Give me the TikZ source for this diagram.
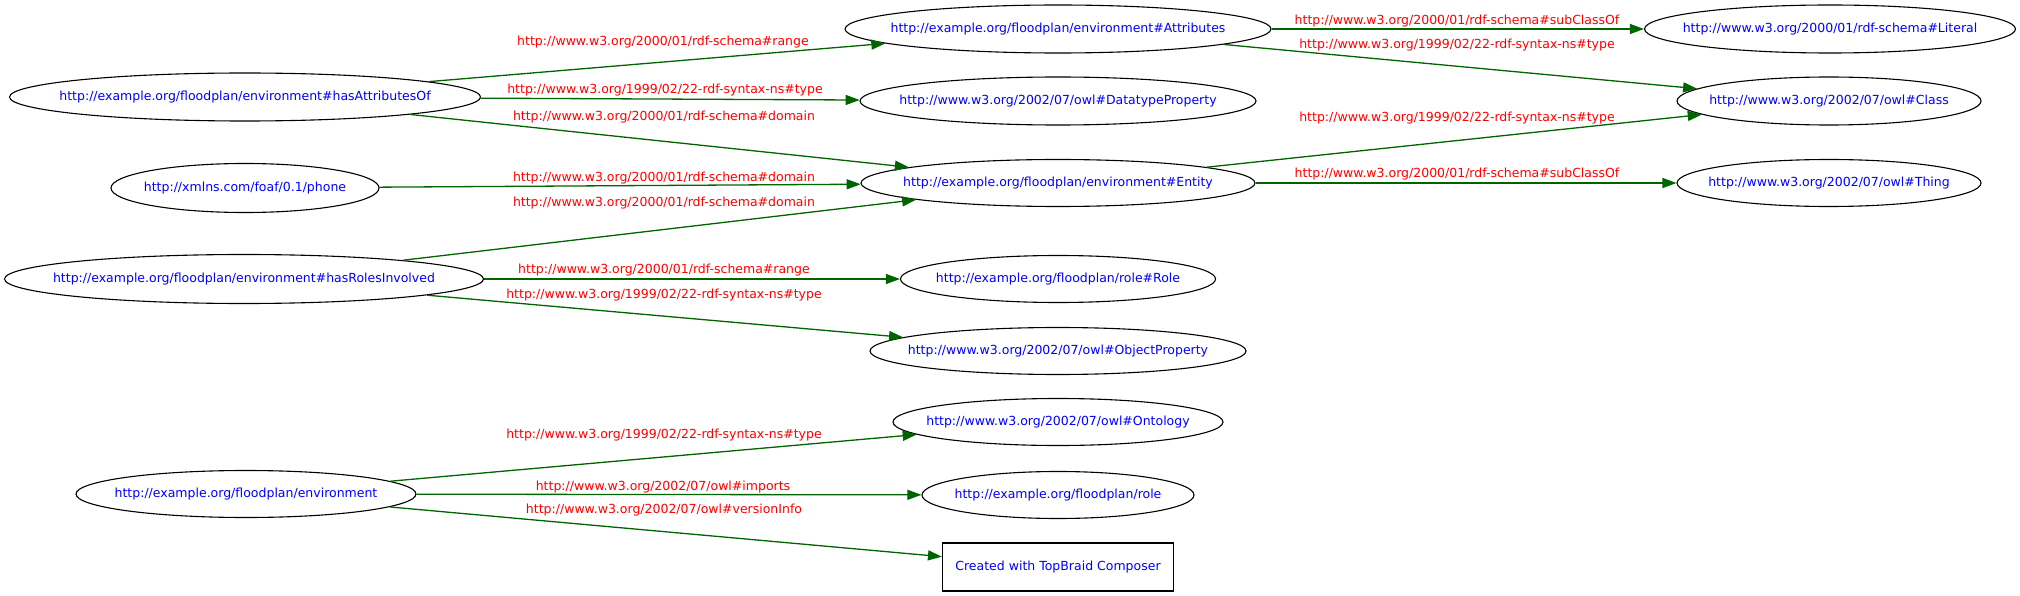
\documentclass[tikz,border=0pt]{standalone}
\usepackage{fontspec}
\setmainfont{DejaVu Sans}
\usepackage{xcolor}
\usepackage{tikz}
\usetikzlibrary{arrows.meta, shapes.geometric}

\definecolor{iriblue}{RGB}{0,0,255}
\definecolor{predred}{RGB}{255,0,0}
\definecolor{linkgreen}{RGB}{0,100,0}

\begin{document}
\begin{tikzpicture}[
    x=1pt, y=-1pt,
    res/.style={draw, ellipse, line width=1.1pt, inner xsep=-40pt, inner ysep=0pt, text=iriblue, font=\fontsize{12.5}{15}\selectfont},
    lit/.style={draw, rectangle, line width=1.1pt, inner sep=0pt, text=iriblue, font=\fontsize{12.5}{15}\selectfont},
    link/.style={draw=linkgreen, line width=1.3pt, -{Triangle[length=14pt, width=10pt]}},
    pred/.style={inner sep=0pt, text=predred, font=\fontsize{12.5}{15}\selectfont},
]
\useasboundingbox (0,0) rectangle (2020,596);

% Properties
\node[res, minimum width=471, minimum height=48] (hasattr) at (245,97) {http://example.org/floodplan/environment\#hasAttributesOf};
\node[res, minimum width=268, minimum height=49] (phone) at (245,188) {http://xmlns.com/foaf/0.1/phone};
\node[res, minimum width=479, minimum height=49] (hasroles) at (244,279) {http://example.org/floodplan/environment\#hasRolesInvolved};
\node[res, minimum width=340, minimum height=47] (env) at (246,494) {http://example.org/floodplan/environment};

% Classes and types
\node[res, minimum width=426, minimum height=48] (attrs) at (1058,29) {http://example.org/floodplan/environment\#Attributes};
\node[res, minimum width=396, minimum height=48] (dtprop) at (1058,101) {http://www.w3.org/2002/07/owl\#DatatypeProperty};
\node[res, minimum width=394, minimum height=47] (entity) at (1058,183) {http://example.org/floodplan/environment\#Entity};
\node[res, minimum width=315, minimum height=47] (rolecls) at (1058,279) {http://example.org/floodplan/role\#Role};
\node[res, minimum width=376, minimum height=47] (objprop) at (1058,351) {http://www.w3.org/2002/07/owl\#ObjectProperty};
\node[res, minimum width=330, minimum height=47] (ontology) at (1058,422) {http://www.w3.org/2002/07/owl\#Ontology};
\node[res, minimum width=272, minimum height=47] (roleont) at (1058,495) {http://example.org/floodplan/role};
\node[lit, minimum width=231, minimum height=48] (credit) at (1058,567) {Created with TopBraid Composer};

% Top level
\node[res, minimum width=371, minimum height=48] (literal) at (1830,29) {http://www.w3.org/2000/01/rdf-schema\#Literal};
\node[res, minimum width=304, minimum height=48] (owlclass) at (1829,101) {http://www.w3.org/2002/07/owl\#Class};
\node[res, minimum width=304, minimum height=47] (thing) at (1829,183) {http://www.w3.org/2002/07/owl\#Thing};

% Links
\draw[link] (hasattr) -- (attrs);
\draw[link] (hasattr) -- (dtprop);
\draw[link] (hasattr) -- (entity);
\draw[link] (phone) -- (entity);
\draw[link] (hasroles) -- (entity);
\draw[link] (hasroles) -- (rolecls);
\draw[link] (hasroles) -- (objprop);
\draw[link] (attrs) -- (literal);
\draw[link] (attrs) -- (owlclass);
\draw[link] (entity) -- (owlclass);
\draw[link] (entity) -- (thing);
\draw[link] (env) -- (ontology);
\draw[link] (env) -- (roleont);
\draw[link] (env) -- (credit);

% Predicate labels
\node[pred] (p1) at (663,42) {http://www.w3.org/2000/01/rdf-schema\#range};
\node[pred] (p2) at (665,90) {http://www.w3.org/1999/02/22-rdf-syntax-ns\#type};
\node[pred] (p3) at (664,117) {http://www.w3.org/2000/01/rdf-schema\#domain};
\node[pred] (p4) at (664,178) {http://www.w3.org/2000/01/rdf-schema\#domain};
\node[pred] (p5) at (664,203) {http://www.w3.org/2000/01/rdf-schema\#domain};
\node[pred] (p6) at (664,270) {http://www.w3.org/2000/01/rdf-schema\#range};
\node[pred] (p7) at (664,295) {http://www.w3.org/1999/02/22-rdf-syntax-ns\#type};
\node[pred] (p8) at (1457,21) {http://www.w3.org/2000/01/rdf-schema\#subClassOf};
\node[pred] (p9) at (1457,45) {http://www.w3.org/1999/02/22-rdf-syntax-ns\#type};
\node[pred] (p10) at (1457,118) {http://www.w3.org/1999/02/22-rdf-syntax-ns\#type};
\node[pred] (p11) at (1457,174) {http://www.w3.org/2000/01/rdf-schema\#subClassOf};
\node[pred] (p12) at (664,435) {http://www.w3.org/1999/02/22-rdf-syntax-ns\#type};
\node[pred] (p13) at (663,487) {http://www.w3.org/2002/07/owl\#imports};
\node[pred] (p14) at (664,510) {http://www.w3.org/2002/07/owl\#versionInfo};

\end{tikzpicture}
\end{document}
